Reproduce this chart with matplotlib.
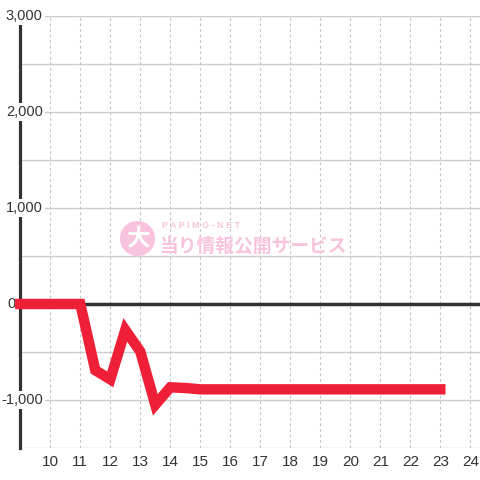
import matplotlib
matplotlib.use('Agg')
import matplotlib.pyplot as plt

# 時刻(時)と差枚
hours = [9, 9.5, 10, 10.5, 11, 11.5, 12, 12.5, 13, 13.5, 14, 14.5, 15, 15.5, 16,
         16.5, 17, 17.5, 18, 18.5, 19, 19.5, 20, 20.5, 21, 21.5, 22, 22.5, 23]
diff = [0, 0, 0, 0, 0, -690, -785, -270, -495, -1050, -868, -875, -889, -889, -889,
        -889, -889, -889, -889, -889, -889, -889, -889, -889, -889, -889, -889, -889, -889]

x_ticks = list(range(10, 25))
y_grid = list(range(-1500, 3001, 500))
y_labels = [-1000, 0, 1000, 2000, 3000]

plt.rcParams['font.family'] = ['Liberation Sans', 'Noto Sans CJK JP', 'DejaVu Sans']

fig = plt.figure(figsize=(4.8, 4.8), dpi=100)
ax = fig.add_axes([20.3 / 480, 32 / 480, 1 - 20.3 / 480, 432 / 480])
ax.set_xlim(9, 9 + (480 - 20.3) / 30)
ax.set_ylim(-1500, 3000)

for s in ax.spines.values():
    s.set_visible(False)
ax.set_xticks([])
ax.set_yticks([])

# グリッド
for v in y_grid:
    ax.axhline(v, color='#cccccc', lw=1, zorder=1)
for h in x_ticks:
    ax.axvline(h, color='#c4c4c4', lw=0.8, ls=(0, (2.5, 2.5)), zorder=1)

ax.axhline(0, color='#333333', lw=2.5, zorder=2)
ax.axvline(9, color='#333333', lw=2.3, zorder=2, clip_on=False)

# 透かし
wm = '#f8c3dc'
ax.scatter([0.254], [0.486], s=640, color=wm, transform=ax.transAxes, zorder=2.5,
           linewidths=0, clip_on=False)
ax.text(0.256, 0.484, '大', transform=ax.transAxes, color='white', fontsize=17,
        fontweight='bold', ha='center', va='center', zorder=2.6,
        family=['Noto Sans CJK JP'])
ax.text(0.308, 0.514, 'P A P I M O - N E T', transform=ax.transAxes, color=wm,
        fontsize=6.5, fontweight='bold', ha='left', va='center', zorder=2.5)
ax.text(0.302, 0.466, '当り情報公開サービス', transform=ax.transAxes, color=wm,
        fontsize=13.5, fontweight='bold', ha='left', va='center', zorder=2.5,
        family=['Noto Sans CJK JP'])

for v in y_labels:
    xpos = 9.75 if v != 0 else 8.85
    ax.text(xpos, v, f'{v:,}', ha='right', va='center', fontsize=10.5, color='#333333',
            zorder=2.8, clip_on=False,
            bbox=dict(facecolor='white', edgecolor='none', pad=1.5))
for h in x_ticks:
    ax.text(h, -1500 - 14 / 96 * 1000, str(h), ha='center', va='center', fontsize=11,
            color='#333333', clip_on=False)

ax.plot(hours, diff, color='#ee1f36', lw=7.5, solid_capstyle='projecting',
        solid_joinstyle='miter', zorder=3, clip_on=False)

fig.savefig('out.png', dpi=100, facecolor='white')
